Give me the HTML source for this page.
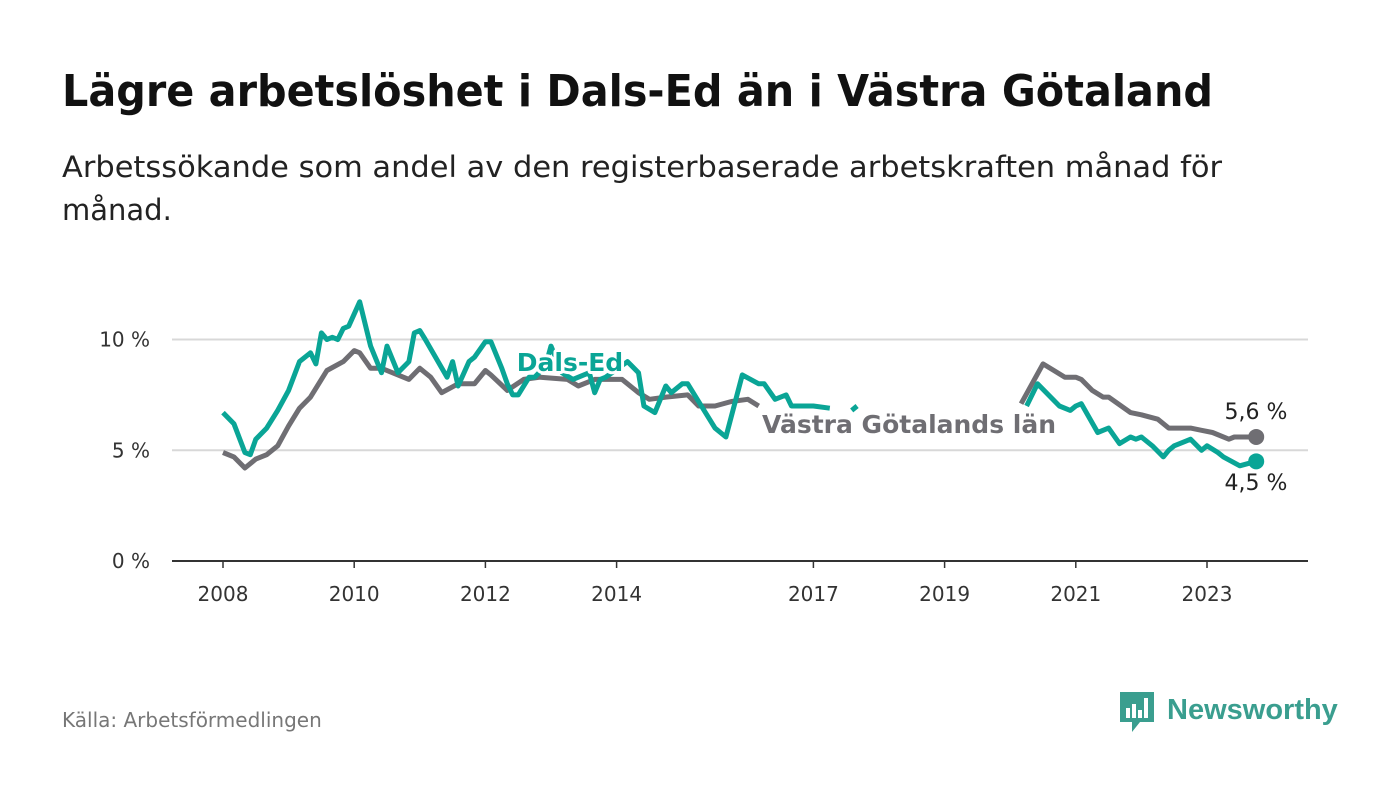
<!DOCTYPE html>
<html><head><meta charset="utf-8"><style>
body{margin:0;background:#fff;width:1400px;height:794px;overflow:hidden;font-family:"Liberation Sans","DejaVu Sans",sans-serif}
</style></head><body>
<svg id="chart" width="1400" height="794" viewBox="0 0 1400 794" xmlns="http://www.w3.org/2000/svg">
<text x="62" y="106" font-size="44" font-weight="bold" fill="#111" font-family="DejaVu Sans, sans-serif" textLength="1151" lengthAdjust="spacingAndGlyphs">Lägre arbetslöshet i Dals-Ed än i Västra Götaland</text>
<text x="62" y="177" font-size="29" fill="#222" font-family="DejaVu Sans, sans-serif" textLength="1160" lengthAdjust="spacingAndGlyphs">Arbetssökande som andel av den registerbaserade arbetskraften månad för</text>
<text x="62" y="220" font-size="29" fill="#222" font-family="DejaVu Sans, sans-serif">månad.</text>
<g id="grid"></g><g id="lines"></g><g id="labels"></g>
<text x="62" y="727" font-size="20" fill="#777" font-family="DejaVu Sans, sans-serif">Källa: Arbetsförmedlingen</text>
<g>
<path d="M1120 692h34v30h-14l-8 10v-10h-12z" fill="#3a9e8f"/>
<rect x="1126" y="708" width="4" height="10" fill="#fff"/><rect x="1132" y="704" width="4" height="14" fill="#fff"/><rect x="1138" y="710" width="4" height="8" fill="#fff"/><rect x="1144" y="698" width="4" height="20" fill="#fff"/>
<text x="1167" y="719" font-size="29" font-weight="bold" fill="#3a9e8f" font-family="Liberation Sans, sans-serif">Newsworthy</text>
</g>
</svg>
<script>
const yTicks=[0,5,10];
const yTickLabels=["0 %","5 %","10 %"];
const xTickYears=[2008,2010,2012,2014,2017,2019,2021,2023];
const dalsMonths=[0,2,4,5,6,8,10,12,14,16,17,18,19,20,21,22,23,25,27,29,30,32,34,35,36,37,41,42,43,45,46,48,49,51,52,53,54,56,57,59,60,62,64,67,68,69,70,74,76,77,79,81,82,84,85,87,90,92,95,98,99,101,103,104,108,111,113,115,116,118,147,149,153,155,156,157,160,162,164,166,167,168,170,172,173,174,176,177,179,180,182,183,186,189];
const dalsValues=[6.7,6.2,4.9,4.8,5.5,6.0,6.8,7.7,9.0,9.4,8.9,10.3,10.0,10.1,10.0,10.5,10.6,11.7,9.7,8.5,9.7,8.5,9.0,10.3,10.4,10.0,8.3,9.0,7.9,9.0,9.2,9.9,9.9,8.7,8.0,7.5,7.5,8.3,8.3,8.8,9.7,8.5,8.2,8.5,7.6,8.2,8.3,9.0,8.5,7.0,6.7,7.9,7.6,8.0,8.0,7.2,6.0,5.6,8.4,8.0,8.0,7.3,7.5,7.0,7.0,6.9,null,6.8,7.0,null,7.0,8.0,7.0,6.8,7.0,7.1,5.8,6.0,5.3,5.6,5.5,5.6,5.2,4.7,5.0,5.2,5.4,5.5,5.0,5.2,4.9,4.7,4.3,4.5];
const vgMonths=[0,2,4,6,8,10,12,14,16,19,22,24,25,27,29,32,34,36,38,40,43,46,48,49,52,55,58,63,65,68,73,76,78,81,85,87,90,93,96,98,100,145,146,150,152,154,156,157,159,161,162,166,168,171,173,177,179,181,184,185,189];
const vgValues=[4.9,4.7,4.2,4.6,4.8,5.2,6.1,6.9,7.4,8.6,9.0,9.5,9.4,8.7,8.7,8.4,8.2,8.7,8.3,7.6,8.0,8.0,8.6,8.4,7.7,8.2,8.3,8.2,7.9,8.2,8.2,7.6,7.3,7.4,7.5,7.0,7.0,7.2,7.3,7.0,null,null,7.1,8.9,8.6,8.3,8.3,8.2,7.7,7.4,7.4,6.7,6.6,6.4,6.0,6.0,5.9,5.8,5.5,5.6,5.6];
const NS="http://www.w3.org/2000/svg";
const xs=m=>223+m*65.6/12, xy=y=>223+(y-2008)*65.6, ys=v=>561-v*22.15;
function mk(t,a,p){const e=document.createElementNS(NS,t);for(const k in a)e.setAttribute(k,a[k]);p.appendChild(e);return e;}
const g=document.getElementById('grid');
yTicks.forEach((v,i)=>{
  if(v>0){const l=mk('line',{x1:172,x2:1308,y1:ys(v),y2:ys(v),stroke:'#d8d8d8','stroke-width':2},g);
  
  }
  const t=mk('text',{x:150,y:ys(v)+7,'text-anchor':'end','font-size':20,fill:'#333','font-family':'DejaVu Sans, sans-serif'},g);
  t.textContent=yTickLabels[i];
  
  
});
const base=mk('line',{x1:172,x2:1308,y1:561,y2:561,stroke:'#333','stroke-width':2},g);


xTickYears.forEach(y=>{
  const tk=mk('line',{x1:xy(y),x2:xy(y),y1:561,y2:568,stroke:'#333','stroke-width':1.5},g);
  
  
  const t=mk('text',{x:xy(y),y:601,'text-anchor':'middle','font-size':20,fill:'#333','font-family':'DejaVu Sans, sans-serif'},g);
  t.textContent=y;
  
  
});
const L=document.getElementById('lines');
function line(ms,vs,col,name){
  let d='',pen=false;
  ms.forEach((m,i)=>{
    if(vs[i]===null){pen=false;return;}
    d+=(pen?'L':'M')+xs(m).toFixed(1)+' '+ys(vs[i]).toFixed(1);pen=true;
  });
  const p=mk('path',{d:d,fill:'none',stroke:col,'stroke-width':5,'stroke-linejoin':'round'},L);
  
  
  const n=ms.length-1;
  const c=mk('circle',{cx:xs(ms[n]),cy:ys(vs[n]),r:8,fill:col},L);
  
  
}
line(vgMonths,vgValues,'#6f6e73','vastra-gotaland-line');
line(dalsMonths,dalsValues,'#0aa596','dals-ed-line');
const LB=document.getElementById('labels');
function lab(x,y,txt,col,size,w,name,halo){
  const a={x:x,y:y,'font-size':size,'font-weight':w,fill:col,'font-family':'DejaVu Sans, sans-serif','text-anchor':'middle'};
  if(halo){a.stroke='#fff';a['stroke-width']=halo;a['paint-order']='stroke';a['stroke-linejoin']='round';}
  const t=mk('text',a,LB);t.textContent=txt;
  
  
}
lab(570,371,'Dals-Ed','#0aa596',25,'bold','dals-ed-label',6);
lab(909,433,'Västra Götalands län','#6f6e73',25,'bold','vastra-gotaland-label',8);
lab(1256,419,'5,6 %','#222',22,'normal','vastra-gotaland-end-value',6);
lab(1256,490,'4,5 %','#222',22,'normal','dals-ed-end-value',6);
</script>
</body></html>
